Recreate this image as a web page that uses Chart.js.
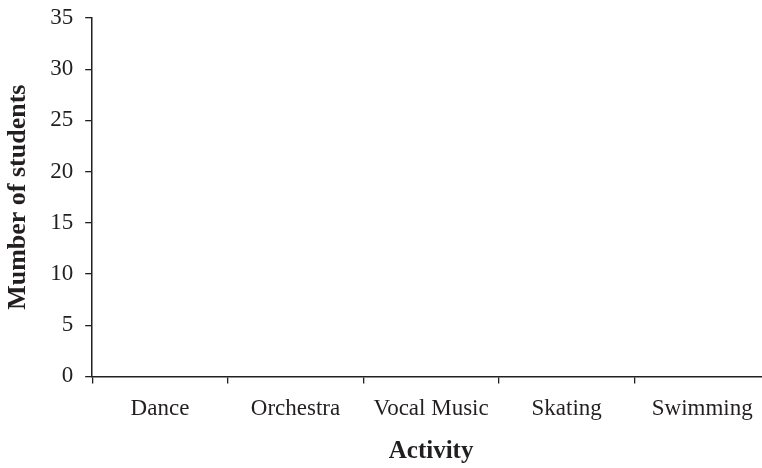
<!DOCTYPE html>
<html>
<head>
<meta charset="utf-8">
<script src="https://cdn.jsdelivr.net/npm/chart.js@4/dist/chart.umd.min.js"></script>
<style>
  html, body { margin: 0; padding: 0; background: #fff; overflow: hidden; }
  #wrap { width: 770px; height: 468px; }
</style>
</head>
<body>
<div id="wrap"><canvas id="chart" width="770" height="468"></canvas></div>
<script>
// categories and values (the reference chart has no bars drawn)
var activities = ['Dance', 'Orchestra', 'Vocal Music', 'Skating', 'Swimming'];
var students = [null, null, null, null, null];
var yMin = 0;
var yMax = 35;
var yStep = 5;

var ink = '#231f20';
var serif = "'Liberation Serif', 'DejaVu Serif', serif";

var ctx = document.getElementById('chart').getContext('2d');
var chart = new Chart(ctx, {
    type: 'bar',
    data: {
        labels: activities,
        datasets: [{
            label: 'Mumber of students',
            data: students,
            backgroundColor: '#888'
        }]
    },
    options: {
        responsive: false,
        animation: false,
        layout: { padding: { top: 18, left: 3, right: 0, bottom: 1 } },
        plugins: {
            legend: { display: false },
            tooltip: { enabled: false }
        },
        scales: {
            x: {
                offset: true,
                grid: {
                    offset: true,
                    drawOnChartArea: false,
                    drawTicks: true,
                    tickLength: 7,
                    color: ink,
                    lineWidth: 1.3
                },
                border: { display: true, color: ink, width: 1.5 },
                ticks: {
                    color: ink,
                    font: { family: serif, size: 23 },
                    padding: 12,
                    maxRotation: 0,
                    autoSkip: false
                },
                title: {
                    display: true,
                    text: 'Activity',
                    color: ink,
                    font: { family: serif, size: 25, weight: 'bold' },
                    padding: { top: 2, bottom: 0 }
                }
            },
            y: {
                min: yMin,
                max: yMax,
                // top label may stick out above the plot, like the original
                afterFit: function(scale) { scale.paddingTop = 0; },
                ticks: {
                    stepSize: yStep,
                    color: ink,
                    font: { family: serif, size: 23 },
                    padding: 12
                },
                grid: {
                    drawOnChartArea: false,
                    drawTicks: true,
                    tickLength: 7,
                    color: ink,
                    lineWidth: 1.3
                },
                border: { display: true, color: ink, width: 1.5 },
                title: {
                    display: true,
                    text: 'Mumber of students',
                    color: ink,
                    font: { family: serif, size: 26, weight: 'bold' },
                    padding: { top: 0, bottom: 4 }
                }
            }
        }
    }
});
</script>
</body>
</html>
